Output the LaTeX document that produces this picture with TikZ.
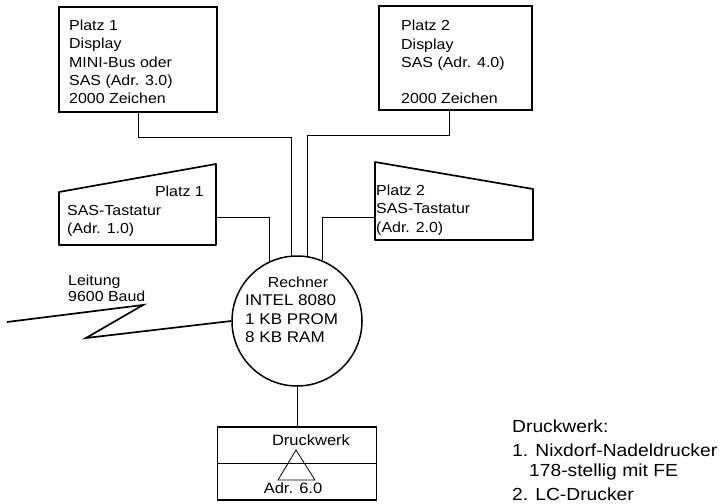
\documentclass[tikz,border=0pt]{standalone}
\usepackage{fontspec}
\setmainfont{Liberation Sans}[FakeStretch=1.1]
\usetikzlibrary{calc}
\newcommand\fs[1]{\fontsize{#1}{#1}\selectfont}
\tikzset{
  box/.style={draw, line width=1.7pt, rectangle, minimum width=#1, inner sep=0pt},
  kbd/.style={draw, line width=1.7pt, line join=round},
  wire/.style={draw, line width=0.8pt},
  lbl/.style={inner sep=0pt, anchor=base west, font=\fs{14.5}},
  cpulbl/.style={inner sep=0pt, anchor=base west, font=\fs{15.5}},
  notes/.style={inner sep=0pt, anchor=base west, font=\fs{17.5}},
}
\begin{document}
\begin{tikzpicture}[x=1pt, y=-1pt]
\useasboundingbox (0,0) rectangle (722,503);

% display stations
\node[box=158pt, minimum height=105pt] (d1) at (138,59.5) {};
\node[box=153pt, minimum height=104pt] (d2) at (455.5,58) {};
\node[lbl] (d1a) at (69,30.5) {Platz 1};
\node[lbl] (d1b) at (69,48.8) {Display};
\node[lbl] (d1c) at (69,67.1) {MINI-Bus oder};
\node[lbl] (d1d) at (69,85.4) {SAS (Adr. 3.0)};
\node[lbl] (d1e) at (69,103.7) {2000 Zeichen};
\node[lbl] (d2a) at (401,31) {Platz 2};
\node[lbl] (d2b) at (401,49.3) {Display};
\node[lbl] (d2c) at (401,67.6) {SAS (Adr. 4.0)};
\node[lbl] (d2e) at (401,103.7) {2000 Zeichen};

% keyboards
\draw[kbd] (59,192) -- (216,164) -- (216,245) -- (59,245) -- cycle;
\draw[kbd] (375,162) -- (533,189) -- (533,240) -- (375,240) -- cycle;
\coordinate (k1e) at (216,217);
\coordinate (k2w) at (375,217);
\node[lbl, anchor=base east] (k1a) at (204,196) {Platz 1};
\node[lbl] (k1b) at (67,215) {SAS-Tastatur};
\node[lbl] (k1c) at (67,233.5) {(Adr. 1.0)};
\node[lbl] (k2a) at (376,195.5) {Platz 2};
\node[lbl] (k2b) at (376,213.5) {SAS-Tastatur};
\node[lbl] (k2c) at (376,232) {(Adr. 2.0)};

% computer
\node[draw, circle, line width=1.5pt, minimum size=130pt, inner sep=0pt] (cpu) at (297,321) {};
\node[inner sep=0pt, anchor=base, font=\fs{14.5}] (cpua) at (298,287) {Rechner};
\node[cpulbl] (cpub) at (245,305.5) {INTEL 8080};
\node[cpulbl] (cpuc) at (245,324) {1 KB PROM};
\node[cpulbl] (cpud) at (245,342.5) {8 KB RAM};

% connections to the computer
\draw[wire] (d1.south) -- ++(0,25) -| (cpu.95.3);
\draw[wire] ($(d2.south)+(-6,0)$) -- ++(0,25) -| (cpu.81.2);
\draw[wire] (k1e) -| (cpu.115.5);
\draw[wire] (k2w) -| (cpu.67.4);

% transmission line
\coordinate (lin) at (7,322);
\draw[line width=1.7pt, line join=miter] (lin) -- (143,305) -- (86,338) -- (cpu.west);
\node[lbl] (la) at (68,285.5) {Leitung};
\node[lbl] (lb) at (68,301.5) {9600 Baud};

% printer
\node[box=159pt, minimum height=73pt] (pr) at (297,463.5) {};
\draw[line width=1.2pt] (pr.west) -- (pr.east);
\draw[wire, line join=miter] (296,450) -- (315,480) -- (278,480) -- cycle;
\node[inner sep=0pt, anchor=base, font=\fs{15}] (pra) at (311,445.5) {Druckwerk};
\node[inner sep=0pt, anchor=base, font=\fs{15}] (prb) at (293,493) {Adr. 6.0};
\draw[wire] (cpu.south) -- (pr.north);

% printer notes
\node[notes] (n1) at (512,432.5) {Druckwerk:};
\node[notes] (n2) at (512,456.5) {1. Nixdorf-Nadeldrucker};
\node[notes] (n3) at (529,476) {178-stellig mit FE};
\node[notes] (n4) at (512,500) {2. LC-Drucker};
\end{tikzpicture}
\end{document}
